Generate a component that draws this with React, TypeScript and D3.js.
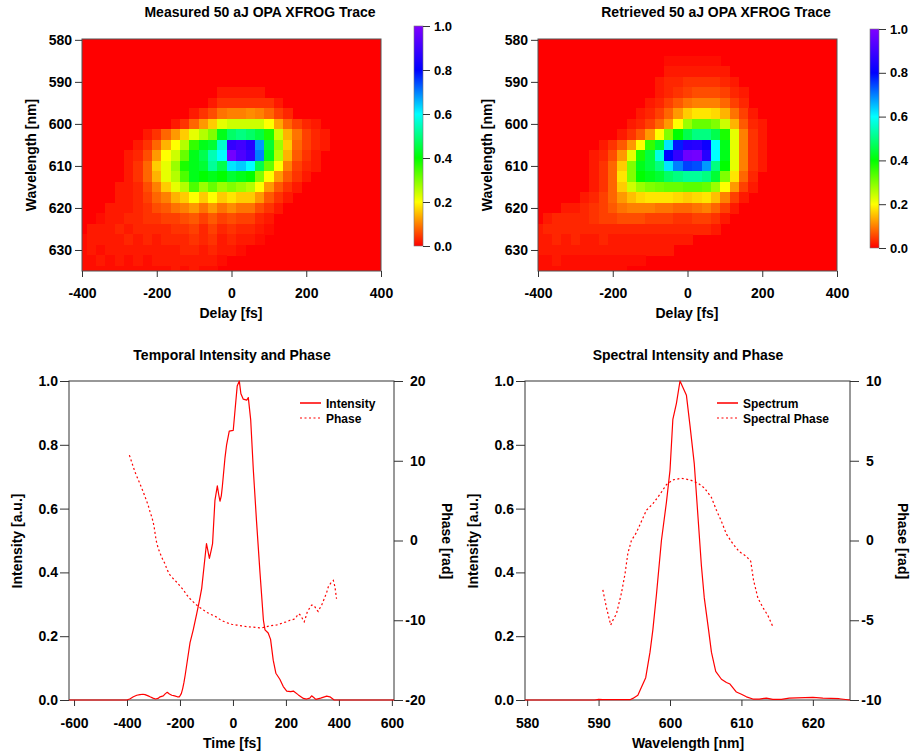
import React, { useRef, useEffect } from 'react';
import * as d3 from 'd3';

// XFROG trace grid (delay in fs, wavelength in nm), values in percent of peak
const traceDelays = [-400, -375, -350, -325, -300, -275, -250, -225, -200, -175, -150, -125, -100, -75, -50, -25, 0, 25, 50, 75, 100, 125, 150, 175, 200, 225, 250, 275, 300, 325, 350, 375, 400];
const traceWavelengths = [580, 582.5, 585, 587.5, 590, 592.5, 595, 597.5, 600, 602.5, 605, 607.5, 610, 612.5, 615, 617.5, 620, 622.5, 625, 627.5, 630, 632.5, 635];

const measuredTrace = [
  [0,0,0,0,0, 0,0,0,0,0, 0,0,0,0,0, 0,0,0,0,0, 0,0,0,0,0, 0,0,0,0,0, 0,0,0],
  [0,0,0,0,0, 0,0,0,0,0, 0,0,0,0,0, 0,0,0,0,0, 0,0,0,0,0, 0,0,0,0,0, 0,0,0],
  [0,0,0,0,0, 0,0,0,0,0, 0,0,0,0,0, 0,0,0,0,0, 0,0,0,0,0, 0,0,0,0,0, 0,0,0],
  [0,0,0,0,0, 0,0,0,0,0, 0,0,0,0,0, 0,0,0,0,0, 0,0,0,0,0, 0,0,0,0,0, 0,0,0],
  [0,0,0,0,0, 0,0,0,0,0, 0,0,0,0,0, 0,0,0,0,0, 0,0,0,0,0, 0,0,0,0,0, 0,0,0],
  [0,0,0,0,0, 0,0,0,0,0, 0,0,0,0,0, 2,2,2,2,2, 0,0,0,0,0, 0,0,0,0,0, 0,0,0],
  [0,0,0,0,0, 0,0,0,0,0, 0,0,0,0,2, 4,4,4,4,4, 4,2,0,0,0, 0,0,0,0,0, 0,0,0],
  [0,0,0,0,0, 0,0,0,0,0, 0,0,2,4,6, 9,10,10,11,10, 8,5,3,0,0, 0,0,0,0,0, 0,0,0],
  [0,0,0,0,0, 0,0,0,0,0, 2,4,8,12,16, 22,24,24,24,24, 20,13,8,5,3, 2,0,0,0,0, 0,0,0],
  [0,0,0,0,0, 0,0,2,4,8, 12,16,22,26,30, 42,48,50,48,45, 38,24,14,9,5, 3,2,0,0,0, 0,0,0],
  [0,0,0,0,0, 0,2,4,8,14, 20,26,36,42,44, 56,88,90,86,68, 44,28,16,8,5, 3,2,0,0,0, 0,0,0],
  [0,0,0,0,0, 2,3,6,12,20, 24,32,42,46,54, 60,98,92,88,70, 42,26,14,7,4, 2,0,0,0,0, 0,0,0],
  [0,0,0,0,0, 2,4,8,16,22, 28,38,42,44,52, 46,62,64,60,46, 32,20,10,5,3, 2,0,0,0,0, 0,0,0],
  [0,0,0,0,0, 2,4,8,14,22, 26,34,42,40,42, 40,44,42,40,30, 20,12,7,4,2, 0,0,0,0,0, 0,0,0],
  [0,0,0,0,2, 2,3,6,10,16, 22,26,34,28,32, 28,30,28,26,20, 12,7,4,2,0, 0,0,0,0,0, 0,0,0],
  [0,0,0,0,2, 2,3,5,8,10, 14,16,20,16,20, 16,18,16,16,12, 7,4,2,0,0, 0,0,0,0,0, 0,0,0],
  [0,0,0,2,2, 2,3,4,6,7, 9,10,12,9,12, 9,11,9,9,6, 4,2,0,0,0, 0,0,0,0,0, 0,0,0],
  [0,0,1,2,2, 3,3,4,4,5, 5,6,7,5,7, 5,6,5,5,3, 2,0,0,0,0, 0,0,0,0,0, 0,0,0],
  [0,2,2,2,3, 2,3,3,3,3, 4,4,5,3,5, 3,4,3,3,2, 1,0,0,0,0, 0,0,0,0,0, 0,0,0],
  [1,2,2,2,2, 3,2,3,2,3, 3,3,4,3,4, 2,3,2,2,1, 0,0,0,0,0, 0,0,0,0,0, 0,0,0],
  [1,2,1,2,2, 2,2,2,2,2, 2,3,3,2,3, 2,2,1,0,0, 0,0,0,0,0, 0,0,0,0,0, 0,0,0],
  [1,1,2,1,2, 1,2,1,2,2, 2,2,2,2,2, 1,0,0,0,0, 0,0,0,0,0, 0,0,0,0,0, 0,0,0],
  [1,1,1,1,1, 1,1,1,1,1, 2,1,2,1,1, 0,0,0,0,0, 0,0,0,0,0, 0,0,0,0,0, 0,0,0],
];

const retrievedTrace = [
  [0,0,0,0,0, 0,0,0,0,0, 0,0,0,0,0, 0,0,0,0,0, 0,0,0,0,0, 0,0,0,0,0, 0,0,0],
  [0,0,0,0,0, 0,0,0,0,0, 0,0,0,0,0, 0,0,0,0,0, 0,0,0,0,0, 0,0,0,0,0, 0,0,0],
  [0,0,0,0,0, 0,0,0,0,0, 0,0,0,0,1, 1,1,1,1,1, 0,0,0,0,0, 0,0,0,0,0, 0,0,0],
  [0,0,0,0,0, 0,0,0,0,0, 0,0,0,0,2, 2,2,2,2,2, 2,0,0,0,0, 0,0,0,0,0, 0,0,0],
  [0,0,0,0,0, 0,0,0,0,0, 0,0,0,2,3, 3,4,4,4,4, 3,2,0,0,0, 0,0,0,0,0, 0,0,0],
  [0,0,0,0,0, 0,0,0,0,0, 0,0,0,2,3, 4,5,6,6,6, 5,3,2,0,0, 0,0,0,0,0, 0,0,0],
  [0,0,0,0,0, 0,0,0,0,0, 0,0,2,3,5, 7,9,10,10,10, 8,5,3,0,0, 0,0,0,0,0, 0,0,0],
  [0,0,0,0,0, 0,0,0,0,0, 0,2,3,5,8, 12,16,18,18,17, 14,9,5,2,0, 0,0,0,0,0, 0,0,0],
  [0,0,0,0,0, 0,0,0,0,0, 2,3,5,8,12, 20,28,32,32,30, 24,14,7,3,2, 0,0,0,0,0, 0,0,0],
  [0,0,0,0,0, 0,0,0,0,2, 4,7,12,20,30, 40,46,50,50,46, 38,22,10,4,2, 0,0,0,0,0, 0,0,0],
  [0,0,0,0,0, 0,0,2,4,7, 12,20,36,44,62, 78,85,86,82,60, 42,22,10,4,2, 0,0,0,0,0, 0,0,0],
  [0,0,0,0,0, 0,2,3,6,12, 22,38,45,58,80, 88,97,98,86,60, 42,22,10,4,2, 0,0,0,0,0, 0,0,0],
  [0,0,0,0,0, 0,2,4,8,16, 30,42,45,50,62, 70,75,74,68,50, 40,22,10,4,2, 0,0,0,0,0, 0,0,0],
  [0,0,0,0,0, 0,2,4,8,18, 30,40,42,44,48, 50,52,52,50,44, 30,18,8,3,0, 0,0,0,0,0, 0,0,0],
  [0,0,0,0,0, 0,2,4,8,16, 24,28,30,31,32, 32,33,33,32,28, 20,12,5,2,0, 0,0,0,0,0, 0,0,0],
  [0,0,0,0,0, 2,3,5,8,12, 15,17,18,18,18, 17,16,17,18,15, 10,5,2,0,0, 0,0,0,0,0, 0,0,0],
  [0,0,0,2,2, 3,4,5,7,9, 10,10,10,9,9, 8,8,9,10,8, 5,2,0,0,0, 0,0,0,0,0, 0,0,0],
  [0,2,3,3,3, 3,4,5,5,6, 6,6,5,5,5, 4,4,5,5,4, 2,0,0,0,0, 0,0,0,0,0, 0,0,0],
  [2,3,3,3,3, 3,3,3,3,3, 3,3,3,3,3, 3,3,3,3,2, 0,0,0,0,0, 0,0,0,0,0, 0,0,0],
  [2,2,3,2,3, 2,2,3,2,2, 2,2,2,2,2, 2,2,0,0,0, 0,0,0,0,0, 0,0,0,0,0, 0,0,0],
  [2,2,2,2,2, 2,2,2,2,2, 2,2,2,2,2, 0,0,0,0,0, 0,0,0,0,0, 0,0,0,0,0, 0,0,0],
  [1,1,2,1,1, 1,1,1,1,1, 1,1,0,0,0, 0,0,0,0,0, 0,0,0,0,0, 0,0,0,0,0, 0,0,0],
  [1,1,1,1,1, 1,1,1,1,1, 0,0,0,0,0, 0,0,0,0,0, 0,0,0,0,0, 0,0,0,0,0, 0,0,0],
];

const traceDelayTicks = [-400, -200, 0, 200, 400];
const traceWavelengthTicks = [580, 590, 600, 610, 620, 630];
const colorbarTicks = [0, 0.2, 0.4, 0.6, 0.8, 1.0];

// temporal intensity and phase
const timeFs = [-619, -400, -388, -376, -363, -351, -340, -332, -320, -313, -302, -292, -283, -275, -263, -255, -248, -240, -231, -220, -210, -202, -195, -190, -185, -180, -171, -162, -150, -137, -127, -118, -109, -100, -95, -89, -82, -77, -68, -59, -54, -49, -44, -40, -30, -24, -14, 1, 8, 16, 24, 30, 39, 52, 58, 67, 77, 89, 102, 115, 121, 133, 142, 152, 162, 177, 190, 203, 218, 228, 247, 266, 278, 290, 297, 305, 313, 331, 354, 366, 382, 608];
const timeIntensity = [0, 0, 0.004, 0.01, 0.015, 0.017, 0.018, 0.017, 0.013, 0.01, 0.006, 0.003, 0.005, 0.01, 0.013, 0.02, 0.024, 0.019, 0.015, 0.013, 0.01, 0.01, 0.02, 0.035, 0.055, 0.08, 0.13, 0.18, 0.22, 0.27, 0.31, 0.35, 0.42, 0.49, 0.47, 0.444, 0.47, 0.49, 0.626, 0.671, 0.645, 0.623, 0.64, 0.67, 0.76, 0.8, 0.843, 0.845, 0.91, 0.984, 1.0, 0.96, 0.943, 0.94, 0.948, 0.878, 0.72, 0.56, 0.4, 0.25, 0.22, 0.21, 0.19, 0.125, 0.084, 0.065, 0.042, 0.028, 0.026, 0.028, 0.016, 0.005, 0.003, 0.006, 0.013, 0.008, 0.002, 0.006, 0.012, 0.01, 0, 0];
const phaseTimeFs = [-391, -380, -370, -360, -351, -340, -332, -320, -313, -305, -298, -290, -282, -275, -265, -257, -248, -238, -225, -213, -200, -187, -175, -162, -150, -137, -125, -112, -100, -87, -75, -62, -45, -24, -5, 14, 33, 52, 70, 89, 100, 115, 128, 140, 152, 165, 178, 190, 203, 215, 228, 234, 241, 247, 253, 259, 264, 269, 275, 281, 289, 297, 303, 309, 316, 322, 328, 335, 341, 347, 354, 360, 370, 379, 385, 391];
const timePhase = [10.7, 9.6, 8.6, 7.8, 7.1, 6.2, 5.5, 4.4, 3.6, 2.8, 1.8, 0.0, -1.0, -1.6, -2.4, -2.9, -3.7, -4.3, -4.8, -5.2, -5.7, -6.2, -6.8, -7.3, -7.7, -8.1, -8.4, -8.7, -9.0, -9.2, -9.4, -9.6, -10.0, -10.3, -10.5, -10.6, -10.7, -10.8, -10.85, -10.9, -10.95, -10.9, -10.8, -10.7, -10.65, -10.6, -10.45, -10.3, -10.2, -10.0, -9.9, -9.8, -9.5, -9.2, -9.3, -9.6, -9.9, -10.2, -9.6, -8.9, -8.5, -8.1, -8.1, -8.3, -8.7, -8.9, -8.5, -8.1, -7.6, -7.1, -6.5, -5.8, -5.3, -5.0, -5.8, -7.3];

// spectral intensity and phase
const specNm = [579.7, 589.5, 590, 590.6, 594.4, 594.8, 595.5, 596.0, 596.6, 597.2, 597.6, 598.1, 598.8, 599.5, 600.0, 600.4, 600.9, 601.4, 602.3, 602.8, 603.4, 603.9, 604.4, 604.8, 605.4, 605.8, 606.4, 607.2, 607.9, 608.4, 609.3, 610.0, 610.7, 611.6, 612.5, 613.5, 614.4, 615.6, 616.7, 620.0, 621.4, 623.7, 625.2];
const specIntensity = [0, 0, 0.002, 0.001, 0.001, 0.005, 0.015, 0.04, 0.07, 0.15, 0.22, 0.33, 0.5, 0.62, 0.72, 0.88, 0.93, 1.0, 0.955, 0.86, 0.74, 0.58, 0.42, 0.32, 0.22, 0.15, 0.09, 0.065, 0.055, 0.05, 0.025, 0.018, 0.01, 0.003, 0.003, 0.006, 0.002, 0.002, 0.006, 0.008, 0.006, 0.004, 0];
const phaseNm = [590.6, 591.1, 591.7, 592.0, 592.5, 593.2, 593.7, 594.1, 594.6, 595.3, 596.0, 596.7, 597.6, 598.6, 599.5, 600.4, 601.6, 602.8, 603.9, 604.8, 605.8, 606.5, 607.2, 607.9, 608.8, 609.7, 610.7, 611.3, 611.7, 612.3, 613.0, 613.7, 614.4];
const specPhase = [-3.1, -4.2, -5.3, -5.0, -4.6, -3.3, -2.1, -0.8, 0.0, 0.5, 1.2, 1.9, 2.3, 2.9, 3.5, 3.8, 3.9, 3.8, 3.6, 3.3, 2.7, 1.9, 1.2, 0.4, -0.2, -0.7, -1.0, -1.3, -2.5, -3.6, -4.2, -4.7, -5.4];

const colorStops = [0, 0.2, 0.4, 0.6, 0.8, 1];
const colorRamp = ['#ff0000', '#ffff00', '#00ff00', '#00ffff', '#0000ff', '#8000ff'];

const FONT = "'Liberation Sans', Arial, Helvetica, sans-serif";

function styleAxis(g: any, size: number) {
  g.attr('font-family', FONT).attr('font-size', size).attr('font-weight', 'bold').attr('color', '#000');
  g.select('.domain').remove();
  g.selectAll('line').attr('stroke', '#333');
}

function App() {
  const svgRef = useRef<SVGSVGElement>(null);

  useEffect(() => {
    const svg = d3.select(svgRef.current);
    svg.selectAll('*').remove();

    const color = d3.scaleLinear<string>().domain(colorStops).range(colorRamp).clamp(true);

    const label = (x: number, y: number, text: string, size: number, anchor = 'middle', rotate = 0) => {
      svg.append('text')
        .attr('transform', `translate(${x},${y}) rotate(${rotate})`)
        .attr('text-anchor', anchor)
        .attr('font-family', FONT)
        .attr('font-size', size)
        .attr('font-weight', 'bold')
        .attr('fill', '#000')
        .text(text);
    };

    // ---------- XFROG trace heatmaps ----------
    const drawTrace = (id: string, values: number[][], title: string, offset: number, cb: { x: number, top: number, bottom: number }) => {
      const x = d3.scaleLinear().domain([-400, 400]).range([82 + offset, 381 + offset]);
      const y = d3.scaleLinear().domain([579.8, 635]).range([39, 271]);
      const [x0, x1] = x.range();

      svg.append('clipPath').attr('id', id)
        .append('rect').attr('x', x0).attr('y', 39).attr('width', x1 - x0).attr('height', 232);

      const g = svg.append('g').attr('clip-path', `url(#${id})`).attr('shape-rendering', 'crispEdges');
      g.append('rect').attr('x', x0).attr('y', 39).attr('width', x1 - x0).attr('height', 232).attr('fill', color(0));

      const cells: { d: number, w: number, v: number }[] = [];
      values.forEach((row, j) => row.forEach((v, k) => cells.push({ d: traceDelays[k], w: traceWavelengths[j], v: v / 100 })));
      const hd = 12.5, hw = 1.25;
      g.selectAll('.cell')
        .data(cells.filter(c => c.v > 0))
        .join('rect')
        .attr('class', 'cell')
        .attr('x', c => x(c.d - hd))
        .attr('y', c => y(c.w - hw))
        .attr('width', c => x(c.d + hd) - x(c.d - hd) + 0.5)
        .attr('height', c => y(c.w + hw) - y(c.w - hw) + 0.5)
        .attr('fill', c => color(c.v));

      svg.append('rect').attr('x', x0).attr('y', 39).attr('width', x1 - x0).attr('height', 232)
        .attr('fill', 'none').attr('stroke', '#555').attr('stroke-width', 1);

      const ax = svg.append('g').attr('transform', 'translate(0,271)')
        .call(d3.axisBottom(x).tickValues(traceDelayTicks).tickSize(6).tickPadding(11).tickFormat(d => String(d)));
      styleAxis(ax, 14);
      const ay = svg.append('g').attr('transform', `translate(${x0},0)`)
        .call(d3.axisLeft(y).tickValues(traceWavelengthTicks).tickSize(7).tickPadding(3).tickFormat(d => String(d)));
      styleAxis(ay, 14);

      label(x0 + 178, 17, title, 14);
      label(x0 + 149, 318, 'Delay [fs]', 14);
      label(offset + 36, 155, 'Wavelength [nm]', 14, 'middle', -90);

      // colour scale bar
      const grad = svg.append('defs').append('linearGradient').attr('id', id + '-grad')
        .attr('x1', 0).attr('y1', 1).attr('x2', 0).attr('y2', 0);
      colorStops.forEach((s, i) => grad.append('stop').attr('offset', s).attr('stop-color', colorRamp[i]));
      svg.append('rect').attr('x', cb.x).attr('y', cb.top).attr('width', 9).attr('height', cb.bottom - cb.top)
        .attr('fill', `url(#${id}-grad)`).attr('stroke', '#777').attr('stroke-width', 0.6);
      const cs = d3.scaleLinear().domain([0, 1]).range([cb.bottom, cb.top]);
      const ac = svg.append('g').attr('transform', `translate(${cb.x + 9},0)`)
        .call(d3.axisRight(cs).tickValues(colorbarTicks).tickSize(7).tickPadding(4).tickFormat(d3.format('.1f')));
      styleAxis(ac, 13);
    };

    drawTrace('measured', measuredTrace, 'Measured 50 aJ OPA XFROG Trace', 0, { x: 414, top: 26, bottom: 246 });
    drawTrace('retrieved', retrievedTrace, 'Retrieved 50 aJ OPA XFROG Trace', 456, { x: 870, top: 29, bottom: 248 });

    // ---------- intensity / phase plots ----------
    const drawPlot = (o: {
      offset: number, xDomain: number[], xTicks: number[], phaseDomain: number[], phaseTicks: number[],
      xs: number[], ys: number[], px: number[], py: number[], title: string, xLabel: string,
      legend: string[], legendX: number,
    }) => {
      const left = 69 + o.offset, right = 394 + o.offset, top = 381, bottom = 700;
      const x = d3.scaleLinear().domain(o.xDomain).range([left, right]);
      const yI = d3.scaleLinear().domain([0, 1]).range([bottom, top]);
      const yP = d3.scaleLinear().domain(o.phaseDomain).range([bottom, top]);

      svg.append('rect').attr('x', left).attr('y', top).attr('width', right - left).attr('height', bottom - top)
        .attr('fill', 'none').attr('stroke', '#333').attr('stroke-width', 1);

      const ax = svg.append('g').attr('transform', `translate(0,${bottom})`)
        .call(d3.axisBottom(x).tickValues(o.xTicks).tickSize(6).tickPadding(12).tickFormat(d => String(d)));
      styleAxis(ax, 14);
      const al = svg.append('g').attr('transform', `translate(${left},0)`)
        .call(d3.axisLeft(yI).tickValues([0, 0.2, 0.4, 0.6, 0.8, 1]).tickSize(9).tickPadding(2).tickFormat(d3.format('.1f')));
      styleAxis(al, 14);
      const ar = svg.append('g').attr('transform', `translate(${right},0)`)
        .call(d3.axisRight(yP).tickValues(o.phaseTicks).tickSize(9).tickPadding(7).tickFormat(d => String(d)));
      styleAxis(ar, 14);
      ar.selectAll('text').attr('x', (d: any) => (d < 0 ? 11.3 : 16));

      const intensityLine = d3.line<number>().x((d, i) => x(o.xs[i])).y(d => yI(d));
      const phaseLine = d3.line<number>().x((d, i) => x(o.px[i])).y(d => yP(d));

      svg.append('path').datum(o.ys).attr('d', intensityLine)
        .attr('fill', 'none').attr('stroke', '#ff0000').attr('stroke-width', 1.2).attr('stroke-linejoin', 'round');
      svg.append('path').datum(o.py).attr('d', phaseLine)
        .attr('fill', 'none').attr('stroke', '#ff0000').attr('stroke-width', 1.2).attr('stroke-dasharray', '2,2.5');

      // legend
      const lx = o.legendX;
      svg.append('line').attr('x1', lx).attr('x2', lx + 21).attr('y1', 403).attr('y2', 403)
        .attr('stroke', '#ff3b3b').attr('stroke-width', 2);
      svg.append('line').attr('x1', lx).attr('x2', lx + 21).attr('y1', 418).attr('y2', 418)
        .attr('stroke', '#ff0000').attr('stroke-width', 1.2).attr('stroke-dasharray', '2,2.5');
      label(lx + 26, 407.5, o.legend[0], 12, 'start');
      label(lx + 26, 422.5, o.legend[1], 12, 'start');

      label(left + 163, 360, o.title, 14);
      label(left + 163, 748, o.xLabel, 14);
      label(o.offset + 22, 541, 'Intensity [a.u.]', 14, 'middle', -90);
      label(o.offset + 442, 541, 'Phase [rad]', 14, 'middle', 90);
    };

    drawPlot({
      offset: 0, xDomain: [-619, 608], xTicks: [-600, -400, -200, 0, 200, 400, 600],
      phaseDomain: [-20, 20], phaseTicks: [-20, -10, 0, 10, 20],
      xs: timeFs, ys: timeIntensity, px: phaseTimeFs, py: timePhase,
      title: 'Temporal Intensity and Phase', xLabel: 'Time [fs]',
      legend: ['Intensity', 'Phase'], legendX: 300,
    });
    drawPlot({
      offset: 456, xDomain: [579.7, 625.2], xTicks: [580, 590, 600, 610, 620],
      phaseDomain: [-10, 10], phaseTicks: [-10, -5, 0, 5, 10],
      xs: specNm, ys: specIntensity, px: phaseNm, py: specPhase,
      title: 'Spectral Intensity and Phase', xLabel: 'Wavelength [nm]',
      legend: ['Spectrum', 'Spectral Phase'], legendX: 717,
    });
  }, []);

  return (
    <svg ref={svgRef} width={912} height={754}
      style={{ position: 'absolute', left: 0, top: 0, background: '#fff' }} />
  );
}

export default App;
